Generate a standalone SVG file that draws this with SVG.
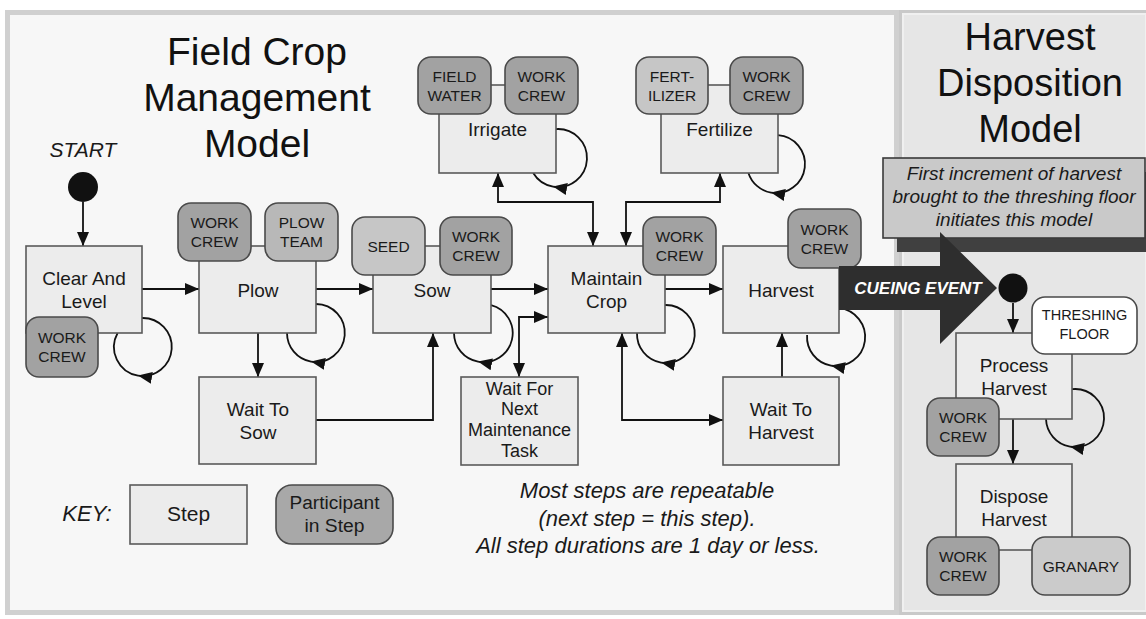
<svg xmlns="http://www.w3.org/2000/svg" width="1146" height="619" viewBox="0 0 1146 619">
<defs>
<marker id="ah" markerUnits="userSpaceOnUse" markerWidth="15" markerHeight="12" refX="14" refY="6" orient="auto-start-reverse">
<path d="M0,0 L14,6 L0,12 z" fill="#111"/>
</marker>
<style>
text{font-family:"Liberation Sans",Arial,sans-serif;fill:#1a1a1a;text-anchor:middle}
.step{fill:#ececec;stroke:#5a5a5a;stroke-width:1.6}
.pd{fill:#a2a2a2;stroke:#4a4a4a;stroke-width:1.6}
.pl{fill:#c6c6c6;stroke:#4a4a4a;stroke-width:1.6}
.pw{fill:#ffffff;stroke:#4a4a4a;stroke-width:1.6}
.sl{font-size:19px}
.sl4{font-size:18px}
.pt{font-size:15.5px}
.title{font-size:39px;fill:#111}
.con{fill:none;stroke:#111;stroke-width:1.8}
.loop{fill:none;stroke:#111;stroke-width:1.8}
</style>
</defs>
<rect x="0" y="0" width="1146" height="619" fill="#ffffff"/>
<!-- panels -->
<rect x="7.5" y="12.5" width="889" height="600" fill="#f7f7f7" stroke="#d0d0d0" stroke-width="5"/>
<rect x="899" y="10" width="247" height="605" fill="#c9c9c9"/>
<rect x="903" y="14" width="243" height="597" fill="#e6e6e6" stroke="#f0f0f0" stroke-width="2"/>

<!-- titles -->
<g id="title-left">
<text class="title" x="257" y="65">Field Crop</text>
<text class="title" x="257" y="111">Management</text>
<text class="title" x="257" y="157">Model</text>
</g>
<g id="title-right">
<text class="title" style="font-size:38px" x="1030" y="50">Harvest</text>
<text class="title" style="font-size:38px" x="1030" y="96">Disposition</text>
<text class="title" style="font-size:38px" x="1030" y="142">Model</text>
</g>
<g id="start">
<text x="83" y="157" style="font-size:21px;font-style:italic">START</text>
<circle cx="83" cy="187" r="15" fill="#111"/>
</g>

<!-- annotation -->
<g id="annotation">
<rect x="897" y="172" width="260" height="80" fill="#404040"/>
<rect x="883" y="158" width="262" height="80" fill="#c9c9c9" stroke="#3a3a3a" stroke-width="1.6"/>
<text x="1014" y="180" style="font-size:19px;font-style:italic">First increment of harvest</text>
<text x="1014" y="203" style="font-size:19px;font-style:italic">brought to the threshing floor</text>
<text x="1014" y="226" style="font-size:19px;font-style:italic">initiates this model</text>
</g>

<!-- connectors -->
<g id="connectors">
<path class="con" d="M83,202 V246" marker-end="url(#ah)"/>
<path class="con" d="M142,289 H199" marker-end="url(#ah)"/>
<path class="con" d="M316,289 H373" marker-end="url(#ah)"/>
<path class="con" d="M491,289 H548" marker-end="url(#ah)"/>
<path class="con" d="M665,289 H723" marker-end="url(#ah)"/>
<path class="con" d="M258,333 V377" marker-end="url(#ah)"/>
<path class="con" d="M316,420 H433 V333" marker-end="url(#ah)"/>
<path class="con" d="M548,317 H519 V377" marker-start="url(#ah)" marker-end="url(#ah)"/>
<path class="con" d="M622,333 V420 H723" marker-start="url(#ah)" marker-end="url(#ah)"/>
<path class="con" d="M782,377 V333" marker-end="url(#ah)"/>
<path class="con" d="M498,173 V202 H593 V246" marker-start="url(#ah)" marker-end="url(#ah)"/>
<path class="con" d="M720,173 V202 H626 V246" marker-start="url(#ah)" marker-end="url(#ah)"/>
<path class="con" d="M1013,303 V333" marker-end="url(#ah)"/>
<path class="con" d="M1013,419 V464" marker-end="url(#ah)"/>
<!-- self loops -->
<path class="loop" d="M142,318 A29,29 0 1 1 138,375.6" marker-end="url(#ah)"/>
<path class="loop" d="M138,375.6 A29,29 0 0 1 117.6,333"/>
<path class="loop" d="M316,304 A29,29 0 1 1 311,361.6" marker-end="url(#ah)"/>
<path class="loop" d="M311,361.6 A29,29 0 0 1 287,333"/>
<path class="loop" d="M491,305.1 A29,29 0 0 1 478,361.6" marker-end="url(#ah)"/>
<path class="loop" d="M478,361.6 A29,29 0 0 1 454,333"/>
<path class="loop" d="M665,305 A29,29 0 1 1 661,362.6" marker-end="url(#ah)"/>
<path class="loop" d="M661,362.6 A29,29 0 0 1 637,333"/>
<path class="loop" d="M839,308.2 A29,29 0 1 1 831,365.6" marker-end="url(#ah)"/>
<path class="loop" d="M831,365.6 A29,29 0 0 1 807.1,335"/>
<path class="loop" d="M556,129.1 A29,29 0 1 1 553,186.6" marker-end="url(#ah)"/>
<path class="loop" d="M553,186.6 A29,29 0 0 1 533.2,173"/>
<path class="loop" d="M778,135.1 A29,29 0 1 1 771,192.6" marker-end="url(#ah)"/>
<path class="loop" d="M771,192.6 A29,29 0 0 1 748.4,173"/>
<path class="loop" d="M1072,389.2 A29,29 0 1 1 1070,446.6" marker-end="url(#ah)"/>
<path class="loop" d="M1070,446.6 A29,29 0 0 1 1046,419"/>
</g>

<!-- nodes -->
<g id="clear-and-level">
<rect class="step" x="26" y="246" width="116" height="87"/>
<text class="sl" x="84" y="285">Clear And</text>
<text class="sl" x="84" y="308">Level</text>
<rect class="pd" x="26" y="317" width="72" height="60" rx="13"/>
<text class="pt" x="62" y="343">WORK</text>
<text class="pt" x="62" y="362">CREW</text>
</g>
<g id="plow">
<rect class="step" x="199" y="246" width="117" height="87"/>
<text class="sl" x="258" y="296.5">Plow</text>
<rect class="pd" x="178" y="203" width="73" height="58" rx="13"/>
<text class="pt" x="214.5" y="228">WORK</text>
<text class="pt" x="214.5" y="247">CREW</text>
<rect class="pl" x="265" y="203" width="73" height="58" rx="13" style="fill:#b8b8b8"/>
<text class="pt" x="301.5" y="228">PLOW</text>
<text class="pt" x="301.5" y="247">TEAM</text>
</g>
<g id="wait-to-sow">
<rect class="step" x="199" y="377" width="117" height="87"/>
<text class="sl" x="258" y="416">Wait To</text>
<text class="sl" x="258" y="439">Sow</text>
</g>
<g id="sow">
<rect class="step" x="373" y="246" width="118" height="87"/>
<text class="sl" x="432" y="296.5">Sow</text>
<rect class="pl" x="352" y="217" width="73" height="58" rx="13"/>
<text class="pt" x="388.5" y="251.5">SEED</text>
<rect class="pd" x="440" y="217" width="72" height="58" rx="13"/>
<text class="pt" x="476" y="242">WORK</text>
<text class="pt" x="476" y="261">CREW</text>
</g>
<g id="wait-for-next-maintenance-task">
<rect class="step" x="461" y="377" width="117" height="88"/>
<text class="sl4" x="519.5" y="394.5">Wait For</text>
<text class="sl4" x="519.5" y="415">Next</text>
<text class="sl4" x="519.5" y="436">Maintenance</text>
<text class="sl4" x="519.5" y="457">Task</text>
</g>
<g id="irrigate">
<rect class="step" x="439" y="85" width="117" height="88"/>
<text class="sl" x="497.5" y="136">Irrigate</text>
<rect class="pd" x="418" y="57" width="73" height="57" rx="13"/>
<text class="pt" x="454.5" y="81.5">FIELD</text>
<text class="pt" x="454.5" y="100.5">WATER</text>
<rect class="pd" x="505" y="57" width="73" height="57" rx="13"/>
<text class="pt" x="541.5" y="81.5">WORK</text>
<text class="pt" x="541.5" y="100.5">CREW</text>
</g>
<g id="fertilize">
<rect class="step" x="661" y="85" width="117" height="88"/>
<text class="sl" x="719.5" y="136">Fertilize</text>
<rect class="pl" x="636" y="57" width="72" height="57" rx="13"/>
<text class="pt" x="672" y="81.5">FERT-</text>
<text class="pt" x="672" y="100.5">ILIZER</text>
<rect class="pd" x="730" y="57" width="73" height="57" rx="13"/>
<text class="pt" x="766.5" y="81.5">WORK</text>
<text class="pt" x="766.5" y="100.5">CREW</text>
</g>
<g id="maintain-crop">
<rect class="step" x="548" y="246" width="117" height="87"/>
<text class="sl" x="606.5" y="285">Maintain</text>
<text class="sl" x="606.5" y="308">Crop</text>
<rect class="pd" x="643" y="217" width="73" height="58" rx="13"/>
<text class="pt" x="679.5" y="242">WORK</text>
<text class="pt" x="679.5" y="261">CREW</text>
</g>
<g id="harvest">
<rect class="step" x="723" y="246" width="116" height="87"/>
<text class="sl" x="781" y="296.5">Harvest</text>
<rect class="pd" x="788" y="209" width="73" height="59" rx="13"/>
<text class="pt" x="824.5" y="234.5">WORK</text>
<text class="pt" x="824.5" y="253.5">CREW</text>
</g>
<g id="wait-to-harvest">
<rect class="step" x="723" y="377" width="116" height="88"/>
<text class="sl" x="781" y="416">Wait To</text>
<text class="sl" x="781" y="439">Harvest</text>
</g>

<!-- cueing event -->
<g id="cueing-event">
<polygon points="839,266 940,266 940,232 997,288 940,344 940,310 839,310" fill="#2e2e2e"/>
<text x="918" y="294" style="font-size:17px;font-weight:bold;font-style:italic;fill:#ffffff">CUEING EVENT</text>
</g>
<g id="start-harvest-disposition">
<circle cx="1013" cy="288" r="14.5" fill="#111"/>
</g>

<g id="process-harvest">
<rect class="step" x="956" y="333" width="116" height="86"/>
<text class="sl" x="1014" y="371.5">Process</text>
<text class="sl" x="1014" y="394.5">Harvest</text>
<rect class="pw" x="1032" y="297" width="105" height="57" rx="13"/>
<text x="1084.5" y="320" style="font-size:14.5px">THRESHING</text>
<text x="1084.5" y="339" style="font-size:14.5px">FLOOR</text>
<rect class="pd" x="927" y="398" width="72" height="58" rx="13"/>
<text class="pt" x="963" y="423">WORK</text>
<text class="pt" x="963" y="442">CREW</text>
</g>
<g id="dispose-harvest">
<rect class="step" x="956" y="464" width="116" height="86"/>
<text class="sl" x="1014" y="502.5">Dispose</text>
<text class="sl" x="1014" y="525.5">Harvest</text>
<rect class="pd" x="927" y="537" width="72" height="58" rx="13"/>
<text class="pt" x="963" y="562">WORK</text>
<text class="pt" x="963" y="581">CREW</text>
<rect class="pl" x="1032" y="537" width="98" height="58" rx="13" style="fill:#cbcbcb"/>
<text class="pt" x="1081" y="571.5">GRANARY</text>
</g>

<!-- key -->
<g id="key">
<text x="87" y="521" style="font-size:22px;font-style:italic">KEY:</text>
<rect class="step" x="130" y="485" width="117" height="59"/>
<text x="188.5" y="521" style="font-size:21px">Step</text>
<rect class="pd" x="276" y="485" width="117" height="59" rx="16" style="fill:#a8a8a8"/>
<text x="334.5" y="509" style="font-size:18px" textLength="90" lengthAdjust="spacingAndGlyphs">Participant</text>
<text x="334.5" y="532" style="font-size:18px" textLength="60" lengthAdjust="spacingAndGlyphs">in Step</text>
</g>
<g id="note">
<text x="647" y="498" style="font-size:22px;font-style:italic">Most steps are repeatable</text>
<text x="647" y="526" style="font-size:22px;font-style:italic">(next step = this step).</text>
<text x="648" y="553" style="font-size:22px;font-style:italic">All step durations are 1 day or less.</text>
</g>
</svg>
